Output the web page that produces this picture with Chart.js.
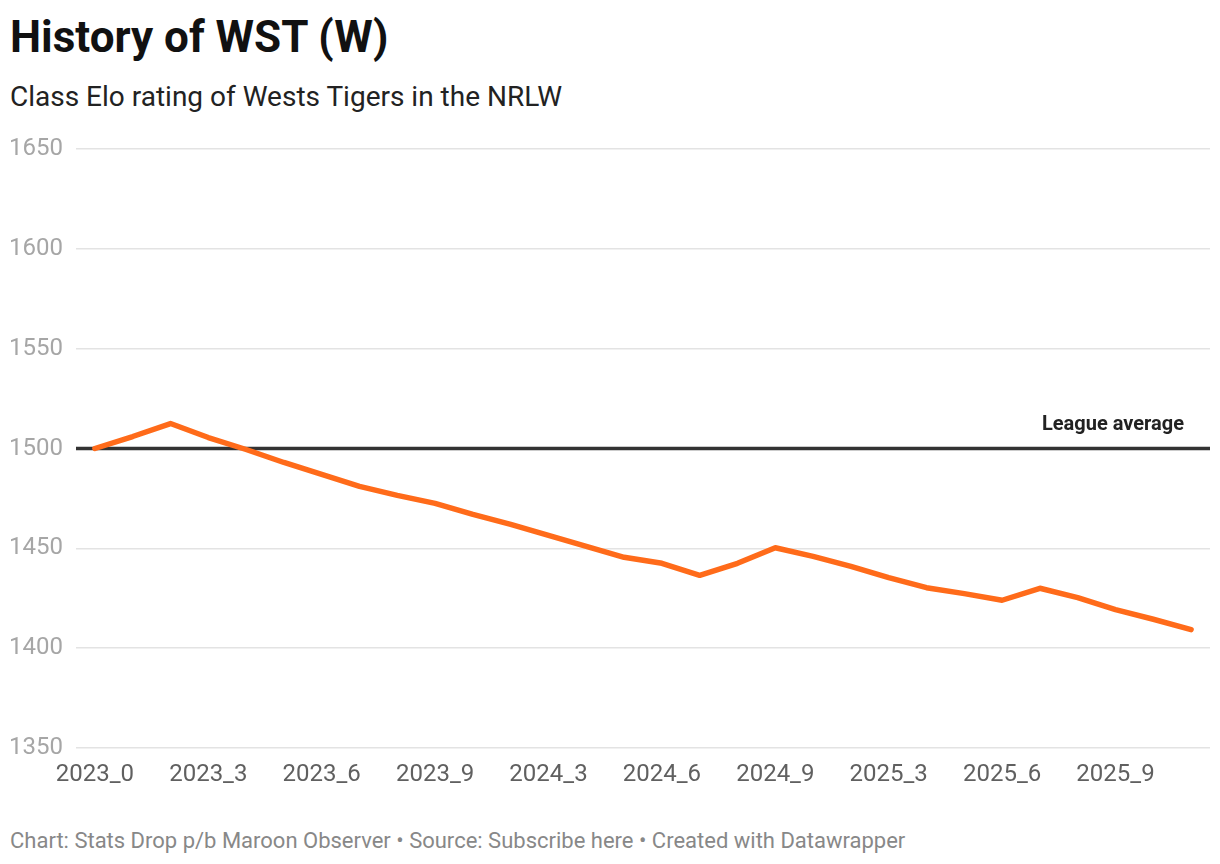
<!DOCTYPE html>
<html>
<head>
<meta charset="utf-8">
<script src="https://cdn.jsdelivr.net/npm/chart.js@4"></script>
<style>
  body { margin: 0; background: #fff; font-family: Roboto, sans-serif; }
  #wrap { position: relative; width: 1220px; height: 864px; overflow: hidden; }
  #title { position: absolute; left: 10px; top: 11px; font-size: 44px; line-height: 52px; font-weight: 700; color: #111; white-space: nowrap; }
  #subtitle { position: absolute; left: 10px; top: 80px; font-size: 28px; line-height: 34px; color: #222; white-space: nowrap; }
  #footer { position: absolute; left: 10px; top: 827px; font-size: 22px; line-height: 28px; color: #888; white-space: nowrap; }
  #chart { position: absolute; left: 0; top: 120px; }
</style>
</head>
<body>
<div id="wrap">
  <div id="title">History of WST (W)</div>
  <div id="subtitle">Class Elo rating of Wests Tigers in the NRLW</div>
  <canvas id="chart" width="1220" height="690"></canvas>
  <div id="footer">Chart: Stats Drop p/b Maroon Observer • Source: Subscribe here • Created with Datawrapper</div>
</div>
<script>
// rounds (season_round)
const rounds = [
    '2023_0', '2023_1', '2023_2', '2023_3', '2023_4', '2023_5', '2023_6', '2023_7', '2023_8', '2023_9',
    '2024_1', '2024_2', '2024_3', '2024_4', '2024_5', '2024_6', '2024_7', '2024_8', '2024_9',
    '2025_1', '2025_2', '2025_3', '2025_4', '2025_5', '2025_6', '2025_7', '2025_8', '2025_9', '2025_10', '2025_11'
];
const elo = [
    1500, 1506, 1512.5, 1505.5, 1499.5, 1493, 1487, 1481, 1476.5, 1472.5,
    1467, 1462, 1456.5, 1451, 1445.5, 1442.5, 1436.5, 1442.5, 1450.3,
    1446, 1441, 1435.3, 1430.3, 1427.3, 1424, 1430, 1425.3, 1419.3, 1414.5, 1409.3
];
const leagueAverage = 1500;
const yTicks = [1350, 1400, 1450, 1500, 1550, 1600, 1650];

const averageLine = {
    id: 'averageLine',
    beforeDatasetsDraw(chart) {
        const ctx = chart.ctx;
        const area = chart.chartArea;
        const y = chart.scales.y.getPixelForValue(leagueAverage);
        ctx.save();
        ctx.strokeStyle = '#333333';
        ctx.lineWidth = 3.5;
        ctx.beginPath();
        ctx.moveTo(area.left, y);
        ctx.lineTo(area.right, y);
        ctx.stroke();
        ctx.fillStyle = '#222222';
        ctx.font = 'bold 20px Roboto';
        ctx.textAlign = 'right';
        ctx.textBaseline = 'middle';
        ctx.fillText('League average', area.right - 26, y - 24);
        ctx.restore();
    }
};

new Chart(document.getElementById('chart'), {
    type: 'line',
    data: {
        labels: rounds,
        datasets: [{
            label: 'WST (W)',
            data: elo,
            borderColor: '#ff6b1a',
            borderWidth: 5.5,
            pointRadius: 0,
            tension: 0,
            borderCapStyle: 'round',
            borderJoinStyle: 'round'
        }]
    },
    options: {
        responsive: false,
        animation: false,
        events: [],
        layout: { padding: { left: 10, right: 10, top: 29, bottom: 22 } },
        plugins: {
            legend: { display: false },
            tooltip: { enabled: false }
        },
        scales: {
            x: {
                offset: true,
                afterFit: (scale) => { scale.height = 40; },
                grid: { display: false },
                border: { display: false },
                ticks: {
                    autoSkip: false,
                    maxRotation: 0,
                    padding: 5,
                    color: '#606060',
                    font: { family: 'Roboto', size: 24 },
                    callback: (v, i) => i % 3 === 0 ? rounds[i] : ''
                }
            },
            y: {
                min: 1350,
                max: 1650,
                afterBuildTicks: (scale) => { scale.ticks = yTicks.map(v => ({ value: v })); },
                afterFit: (scale) => { scale.width = 66; },
                grid: { color: '#e3e3e3', lineWidth: 1.5, drawTicks: false },
                border: { display: false },
                ticks: {
                    padding: 13,
                    color: '#a6a6a6',
                    font: { family: 'Roboto', size: 24 },
                    callback: (v) => String(v)
                }
            }
        }
    },
    plugins: [averageLine]
});
</script>
</body>
</html>
